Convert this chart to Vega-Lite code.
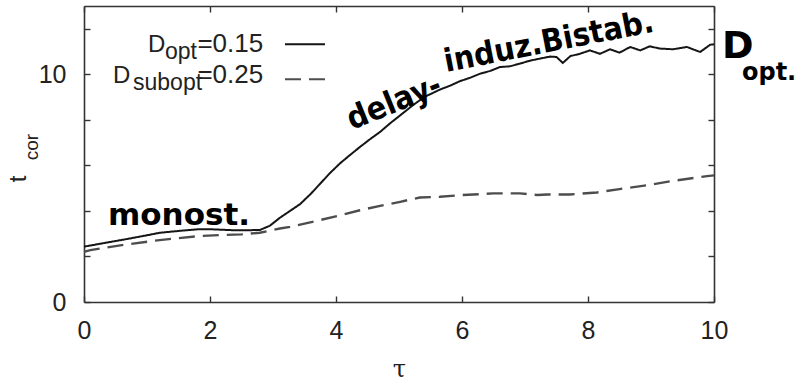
{
  "$schema": "https://vega.github.io/schema/vega-lite/v6.json",
  "width": 630,
  "height": 296,
  "autosize": {"type": "none"},
  "padding": {"left": 84, "top": 6, "right": 85, "bottom": 83},
  "background": "white",
  "config": {
    "view": {"stroke": null},
    "font": "Liberation Sans",
    "axis": {
      "grid": false,
      "domainColor": "#333333",
      "domainWidth": 1.6,
      "tickColor": "#333333",
      "tickWidth": 1.4,
      "tickSize": -6,
      "labelFont": "Liberation Sans",
      "labelFontSize": 25,
      "labelColor": "#222222",
      "labelFlush": false,
      "labelOverlap": false
    }
  },
  "datasets": {
    "curves": [
      {"tau": 0.0, "t": 2.43, "s": "opt"},
      {"tau": 0.3, "t": 2.58, "s": "opt"},
      {"tau": 0.65, "t": 2.75, "s": "opt"},
      {"tau": 1.0, "t": 2.93, "s": "opt"},
      {"tau": 1.2, "t": 3.04, "s": "opt"},
      {"tau": 1.5, "t": 3.12, "s": "opt"},
      {"tau": 1.84, "t": 3.2, "s": "opt"},
      {"tau": 2.05, "t": 3.19, "s": "opt"},
      {"tau": 2.4, "t": 3.15, "s": "opt"},
      {"tau": 2.79, "t": 3.16, "s": "opt"},
      {"tau": 2.95, "t": 3.35, "s": "opt"},
      {"tau": 3.11, "t": 3.7, "s": "opt"},
      {"tau": 3.27, "t": 4.0, "s": "opt"},
      {"tau": 3.43, "t": 4.3, "s": "opt"},
      {"tau": 3.6, "t": 4.75, "s": "opt"},
      {"tau": 3.75, "t": 5.2, "s": "opt"},
      {"tau": 3.9, "t": 5.65, "s": "opt"},
      {"tau": 4.06, "t": 6.08, "s": "opt"},
      {"tau": 4.22, "t": 6.45, "s": "opt"},
      {"tau": 4.38, "t": 6.81, "s": "opt"},
      {"tau": 4.54, "t": 7.15, "s": "opt"},
      {"tau": 4.7, "t": 7.47, "s": "opt"},
      {"tau": 4.86, "t": 7.85, "s": "opt"},
      {"tau": 5.02, "t": 8.2, "s": "opt"},
      {"tau": 5.22, "t": 8.64, "s": "opt"},
      {"tau": 5.4, "t": 9.0, "s": "opt"},
      {"tau": 5.65, "t": 9.33, "s": "opt"},
      {"tau": 5.81, "t": 9.5, "s": "opt"},
      {"tau": 5.97, "t": 9.7, "s": "opt"},
      {"tau": 6.13, "t": 9.85, "s": "opt"},
      {"tau": 6.29, "t": 10.03, "s": "opt"},
      {"tau": 6.45, "t": 10.15, "s": "opt"},
      {"tau": 6.6, "t": 10.32, "s": "opt"},
      {"tau": 6.76, "t": 10.35, "s": "opt"},
      {"tau": 6.92, "t": 10.47, "s": "opt"},
      {"tau": 7.08, "t": 10.6, "s": "opt"},
      {"tau": 7.24, "t": 10.69, "s": "opt"},
      {"tau": 7.4, "t": 10.78, "s": "opt"},
      {"tau": 7.5, "t": 10.76, "s": "opt"},
      {"tau": 7.6, "t": 10.5, "s": "opt"},
      {"tau": 7.72, "t": 10.8, "s": "opt"},
      {"tau": 7.87, "t": 10.9, "s": "opt"},
      {"tau": 8.03, "t": 11.05, "s": "opt"},
      {"tau": 8.19, "t": 10.9, "s": "opt"},
      {"tau": 8.35, "t": 11.1, "s": "opt"},
      {"tau": 8.5, "t": 10.95, "s": "opt"},
      {"tau": 8.67, "t": 11.2, "s": "opt"},
      {"tau": 8.83, "t": 11.05, "s": "opt"},
      {"tau": 8.98, "t": 11.23, "s": "opt"},
      {"tau": 9.14, "t": 11.13, "s": "opt"},
      {"tau": 9.35, "t": 11.1, "s": "opt"},
      {"tau": 9.57, "t": 11.2, "s": "opt"},
      {"tau": 9.78, "t": 10.98, "s": "opt"},
      {"tau": 9.94, "t": 11.3, "s": "opt"},
      {"tau": 10.0, "t": 11.32, "s": "opt"},
      {"tau": 0.0, "t": 2.2, "s": "subopt"},
      {"tau": 0.1, "t": 2.28, "s": "subopt"},
      {"tau": 0.6, "t": 2.5, "s": "subopt"},
      {"tau": 1.2, "t": 2.72, "s": "subopt"},
      {"tau": 1.84, "t": 2.9, "s": "subopt"},
      {"tau": 2.16, "t": 2.94, "s": "subopt"},
      {"tau": 2.5, "t": 2.97, "s": "subopt"},
      {"tau": 2.79, "t": 3.04, "s": "subopt"},
      {"tau": 3.11, "t": 3.23, "s": "subopt"},
      {"tau": 3.27, "t": 3.3, "s": "subopt"},
      {"tau": 3.75, "t": 3.6, "s": "subopt"},
      {"tau": 4.06, "t": 3.8, "s": "subopt"},
      {"tau": 4.38, "t": 4.03, "s": "subopt"},
      {"tau": 4.7, "t": 4.22, "s": "subopt"},
      {"tau": 5.02, "t": 4.4, "s": "subopt"},
      {"tau": 5.33, "t": 4.59, "s": "subopt"},
      {"tau": 5.65, "t": 4.62, "s": "subopt"},
      {"tau": 5.97, "t": 4.69, "s": "subopt"},
      {"tau": 6.5, "t": 4.77, "s": "subopt"},
      {"tau": 6.92, "t": 4.77, "s": "subopt"},
      {"tau": 7.2, "t": 4.7, "s": "subopt"},
      {"tau": 7.35, "t": 4.72, "s": "subopt"},
      {"tau": 7.71, "t": 4.72, "s": "subopt"},
      {"tau": 8.14, "t": 4.81, "s": "subopt"},
      {"tau": 8.5, "t": 4.96, "s": "subopt"},
      {"tau": 8.94, "t": 5.13, "s": "subopt"},
      {"tau": 9.35, "t": 5.32, "s": "subopt"},
      {"tau": 9.89, "t": 5.53, "s": "subopt"},
      {"tau": 10.0, "t": 5.56, "s": "subopt"}
    ],
    "legendLines": [
      {"s": "opt", "x1": 3.19, "x2": 3.825, "y": 11.32},
      {"s": "subopt", "x1": 3.19, "x2": 3.825, "y": 9.78}
    ],
    "legendD": [
      {"txt": "D", "x": 1.016, "y": 10.965},
      {"txt": "D", "x": 0.46, "y": 9.605}
    ],
    "legendVal": [
      {"txt": "=0.15", "x": 1.8, "y": 10.965},
      {"txt": "=0.25", "x": 1.8, "y": 9.605}
    ],
    "legendSub": [
      {"txt": "opt", "x": 1.286, "y": 10.66},
      {"txt": "subopt", "x": 0.778, "y": 9.3}
    ],
    "ytitleMain": [{"txt": "t", "x": -0.921, "y": 5.263}],
    "ytitleSub": [{"txt": "cor", "x": -0.73, "y": 6.228}],
    "noteMono": [{"txt": "monost.", "x": 0.381, "y": 3.38}],
    "noteDelay1": [{"txt": "delay-", "x": 4.254, "y": 7.55}],
    "noteDelay2": [{"txt": "induz.Bistab.", "x": 5.75, "y": 10.1}],
    "noteD": [{"txt": "D", "x": 10.127, "y": 10.7}],
    "noteOpt": [{"txt": "opt.", "x": 10.444, "y": 9.74}]
  },
  "layer": [
    {
      "data": {"name": "curves"},
      "mark": {"type": "line", "interpolate": "linear"},
      "encoding": {
        "x": {
          "field": "tau", "type": "quantitative",
          "scale": {"domain": [0, 10], "nice": false},
          "axis": {
            "orient": "bottom",
            "values": [0, 2, 4, 6, 8, 10],
            "labelPadding": 22,
            "title": "τ",
            "titleFont": "DejaVu Serif",
            "titleFontSize": 24,
            "titleFontWeight": "normal",
            "titleColor": "#222222",
            "titlePadding": 14
          }
        },
        "y": {
          "field": "t", "type": "quantitative",
          "scale": {"domain": [0, 13], "nice": false, "zero": true},
          "axis": {
            "orient": "left",
            "values": [0, 2, 4, 6, 8, 10, 12],
            "labelExpr": "datum.value == 0 || datum.value == 10 ? datum.label : ''",
            "labelPadding": 24,
            "title": null
          }
        },
        "color": {
          "field": "s", "type": "nominal",
          "scale": {"domain": ["opt", "subopt"], "range": ["#151515", "#4d4d4d"]},
          "legend": null
        },
        "strokeWidth": {
          "field": "s", "type": "nominal",
          "scale": {"domain": ["opt", "subopt"], "range": [2, 2.4]},
          "legend": null
        },
        "strokeDash": {
          "field": "s", "type": "nominal",
          "scale": {"domain": ["opt", "subopt"], "range": [[1, 0], [16, 8]]},
          "legend": null
        }
      }
    },
    {
      "data": {"name": "legendLines"},
      "mark": {"type": "rule", "strokeWidth": 2},
      "encoding": {
        "x": {
          "field": "x1", "type": "quantitative",
          "axis": {"orient": "top", "values": [0, 2, 4, 6, 8, 10], "labels": false, "title": null}
        },
        "x2": {"field": "x2"},
        "y": {
          "field": "y", "type": "quantitative",
          "axis": {"orient": "right", "values": [0, 2, 4, 6, 8, 10, 12], "labels": false, "title": null}
        },
        "color": {"field": "s", "type": "nominal", "legend": null},
        "strokeDash": {
          "field": "s", "type": "nominal",
          "scale": {"domain": ["opt", "subopt"], "range": [[1, 0], [13, 6]]},
          "legend": null
        }
      }
    },
    {
      "data": {"name": "legendD"},
      "mark": {"type": "text", "align": "left", "baseline": "alphabetic", "fontSize": 24, "font": "Liberation Sans", "color": "#222222"},
      "encoding": {
        "x": {"field": "x", "type": "quantitative", "axis": null},
        "y": {"field": "y", "type": "quantitative", "axis": null},
        "text": {"field": "txt"}
      }
    },
    {
      "data": {"name": "legendVal"},
      "mark": {"type": "text", "align": "left", "baseline": "alphabetic", "fontSize": 26, "font": "Liberation Sans", "color": "#222222"},
      "encoding": {
        "x": {"field": "x", "type": "quantitative", "axis": null},
        "y": {"field": "y", "type": "quantitative", "axis": null},
        "text": {"field": "txt"}
      }
    },
    {
      "data": {"name": "legendSub"},
      "mark": {"type": "text", "align": "left", "baseline": "alphabetic", "fontSize": 23, "font": "Liberation Sans", "color": "#222222"},
      "encoding": {
        "x": {"field": "x", "type": "quantitative", "axis": null},
        "y": {"field": "y", "type": "quantitative", "axis": null},
        "text": {"field": "txt"}
      }
    },
    {
      "data": {"name": "ytitleMain"},
      "mark": {"type": "text", "align": "left", "baseline": "alphabetic", "fontSize": 24, "font": "Liberation Sans", "color": "#222222"},
      "encoding": {
        "x": {"field": "x", "type": "quantitative", "axis": null},
        "y": {"field": "y", "type": "quantitative", "axis": null},
        "text": {"field": "txt"},
        "angle": {"value": 270}
      }
    },
    {
      "data": {"name": "ytitleSub"},
      "mark": {"type": "text", "align": "left", "baseline": "alphabetic", "fontSize": 19, "font": "Liberation Sans", "color": "#222222"},
      "encoding": {
        "x": {"field": "x", "type": "quantitative", "axis": null},
        "y": {"field": "y", "type": "quantitative", "axis": null},
        "text": {"field": "txt"},
        "angle": {"value": 270}
      }
    },
    {
      "data": {"name": "noteMono"},
      "mark": {"type": "text", "align": "left", "baseline": "alphabetic", "fontSize": 31, "font": "DejaVu Sans", "fontWeight": "bold", "color": "#000000"},
      "encoding": {
        "x": {"field": "x", "type": "quantitative", "axis": null},
        "y": {"field": "y", "type": "quantitative", "axis": null},
        "text": {"field": "txt"}
      }
    },
    {
      "data": {"name": "noteDelay1"},
      "mark": {"type": "text", "align": "left", "baseline": "alphabetic", "angle": -22, "fontSize": 32, "font": "DejaVu Sans Condensed", "fontWeight": "bold", "color": "#000000"},
      "encoding": {
        "x": {"field": "x", "type": "quantitative", "axis": null},
        "y": {"field": "y", "type": "quantitative", "axis": null},
        "text": {"field": "txt"}
      }
    },
    {
      "data": {"name": "noteDelay2"},
      "mark": {"type": "text", "align": "left", "baseline": "alphabetic", "angle": -11, "fontSize": 32, "font": "DejaVu Sans Condensed", "fontWeight": "bold", "color": "#000000"},
      "encoding": {
        "x": {"field": "x", "type": "quantitative", "axis": null},
        "y": {"field": "y", "type": "quantitative", "axis": null},
        "text": {"field": "txt"}
      }
    },
    {
      "data": {"name": "noteD"},
      "mark": {"type": "text", "align": "left", "baseline": "alphabetic", "fontSize": 38, "font": "DejaVu Sans", "fontWeight": "bold", "color": "#000000"},
      "encoding": {
        "x": {"field": "x", "type": "quantitative", "axis": null},
        "y": {"field": "y", "type": "quantitative", "axis": null},
        "text": {"field": "txt"}
      }
    },
    {
      "data": {"name": "noteOpt"},
      "mark": {"type": "text", "align": "left", "baseline": "alphabetic", "fontSize": 24, "font": "DejaVu Sans", "fontWeight": "bold", "color": "#000000"},
      "encoding": {
        "x": {"field": "x", "type": "quantitative", "axis": null},
        "y": {"field": "y", "type": "quantitative", "axis": null},
        "text": {"field": "txt"}
      }
    }
  ],
  "resolve": {"axis": {"x": "independent", "y": "independent"}}
}
